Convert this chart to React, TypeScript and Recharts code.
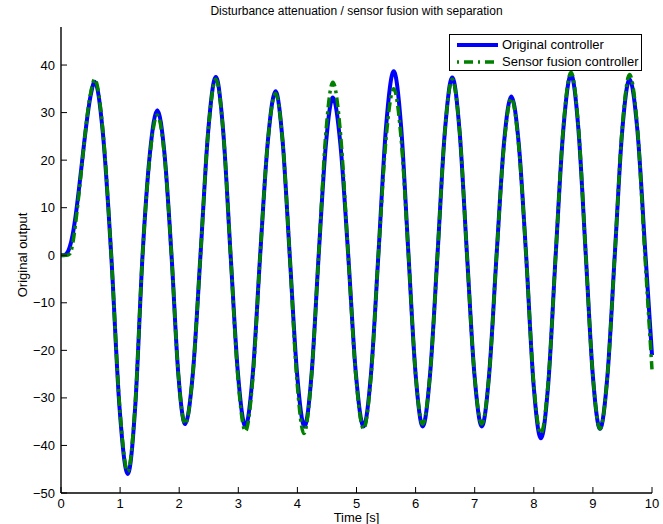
import { LineChart, Line, XAxis, YAxis } from "recharts";

const FONT = '"Liberation Sans", Arial, sans-serif';

const timeTicks = [0, 1, 2, 3, 4, 5, 6, 7, 8, 9, 10];
const outputTicks = [-50, -40, -30, -20, -10, 0, 10, 20, 30, 40];

// Original controller (blue, solid)
const originalTime = [
  0, 0.05, 0.1, 0.15, 0.2, 0.25, 0.3, 0.35, 0.4, 0.45, 0.5, 0.57, 0.71, 0.85, 0.99, 1.13,
  1.255, 1.38, 1.505, 1.63, 1.75, 1.87, 1.985, 2.1, 2.23, 2.36, 2.49, 2.62, 2.745, 2.87,
  2.995, 3.12, 3.245, 3.37, 3.5, 3.63, 3.75, 3.87, 3.995, 4.12, 4.24, 4.36, 4.48, 4.6,
  4.73, 4.86, 4.99, 5.12, 5.245, 5.37, 5.5, 5.63, 5.755, 5.88, 6.0, 6.12, 6.245, 6.37,
  6.495, 6.62, 6.745, 6.87, 6.995, 7.12, 7.245, 7.37, 7.495, 7.62, 7.745, 7.87, 7.995,
  8.12, 8.245, 8.37, 8.5, 8.63, 8.755, 8.88, 9.0, 9.12, 9.245, 9.37, 9.495, 9.62, 9.755,
  9.89, 10,
];
const originalOutput = [
  0, 0, 0.4, 1.8, 4.5, 8.5, 13.5, 19, 24.5, 29.5, 33.5, 36.5, 25.5, 0, -32, -46,
  -32, 0, 21.5, 30.5, 21.5, 0, -25, -35.5, -25, 0, 26, 37.5, 26, 0,
  -25, -36, -25, 0, 24, 34.5, 24, 0, -25, -36, -25, 0, 23, 33.2,
  23, 0, -25, -36, -25, 0, 27, 38.7, 27, 0, -25, -36, -25, 0,
  26, 37.4, 26, 0, -25, -36, -25, 0, 23.5, 33.4, 23.5, 0, -27,
  -38.5, -27, 0, 26.5, 38, 26.5, 0, -25.5, -36.5, -25.5, 0, 26, 37, 26,
  0, -21,
];

// Sensor fusion controller (green, dash-dot)
const fusionTime = [
  0, 0.05, 0.1, 0.15, 0.2, 0.25, 0.3, 0.35, 0.4, 0.45, 0.5, 0.57, 0.71, 0.85, 0.99, 1.13,
  1.255, 1.38, 1.505, 1.63, 1.75, 1.87, 1.985, 2.1, 2.23, 2.36, 2.49, 2.62, 2.745, 2.87,
  2.995, 3.12, 3.245, 3.37, 3.5, 3.63, 3.75, 3.87, 3.99, 4.11, 4.235, 4.36, 4.48, 4.6,
  4.73, 4.86, 4.99, 5.12, 5.245, 5.37, 5.5, 5.63, 5.755, 5.88, 6.0, 6.12, 6.245, 6.37,
  6.495, 6.62, 6.745, 6.87, 6.995, 7.12, 7.245, 7.37, 7.495, 7.62, 7.745, 7.87, 7.995,
  8.12, 8.245, 8.37, 8.5, 8.63, 8.755, 8.88, 9.0, 9.12, 9.245, 9.37, 9.495, 9.62, 9.755,
  9.88, 10,
];
const fusionOutput = [
  0, 0, 0, 0.3, 2.5, 7, 12.5, 18.5, 24.5, 30, 34, 37, 26, 0, -31.5, -45.5,
  -31.5, 0, 21, 29.5, 21, 0, -25, -35.5, -25, 0, 26, 37, 26, 0,
  -26, -37, -26, 0, 24, 34, 24, 0, -26, -37.5, -26, 0, 25.5, 36.4,
  25.5, 0, -25.5, -36.5, -25.5, 0, 24.5, 35, 24.5, 0, -25, -35.5, -25, 0,
  26, 37, 26, 0, -25, -35.5, -25, 0, 23, 33, 23, 0, -26.5,
  -37.5, -26.5, 0, 27, 38.5, 27, 0, -25.5, -36.5, -25.5, 0, 26.5, 38, 26.5,
  0, -24,
];

const originalData = originalTime.map((t, i) => ({ t, y: originalOutput[i] }));
const fusionData = fusionTime.map((t, i) => ({ t, y: fusionOutput[i] }));

const fmt = (v: number) => (v < 0 ? `\u2212${Math.abs(v)}` : `${v}`);

const TICK = 6;

function BottomTick({ x, y, payload }: any) {
  return (
    <g>
      <line x1={x} x2={x} y1={y} y2={y - TICK} stroke="#000" strokeWidth={1} />
      <text x={x} y={y + 15} textAnchor="middle" fontSize={13} fontFamily={FONT} fill="#000">
        {fmt(payload.value)}
      </text>
    </g>
  );
}

function TopTick({ x, y }: any) {
  return <line x1={x} x2={x} y1={y} y2={y + TICK} stroke="#000" strokeWidth={1} />;
}

function LeftTick({ x, y, payload }: any) {
  return (
    <g>
      <line x1={x} x2={x + TICK} y1={y} y2={y} stroke="#000" strokeWidth={1} />
      <text x={x - 6} y={y + 4.5} textAnchor="end" fontSize={13} fontFamily={FONT} fill="#000">
        {fmt(payload.value)}
      </text>
    </g>
  );
}

function RightTick({ x, y }: any) {
  return <line x1={x} x2={x - TICK} y1={y} y2={y} stroke="#000" strokeWidth={1} />;
}

const axisLine = { stroke: "#000", strokeWidth: 1.4 };

export default function App() {
  return (
    <div style={{ position: "absolute", left: 0, top: 0, width: 663, height: 524, background: "#fff", fontFamily: FONT }}>
      <div style={{ position: "absolute", left: 61, width: 591, top: 4, textAlign: "center", fontSize: 12, color: "#000" }}>
        Disturbance attenuation / sensor fusion with separation
      </div>
      <div style={{ position: "absolute", left: 22, top: 255, transform: "translate(-50%, -50%) rotate(-90deg)", fontSize: 13, whiteSpace: "nowrap", color: "#000" }}>
        Original output
      </div>
      <div style={{ position: "absolute", left: 61, width: 591, top: 511, lineHeight: "13px", textAlign: "center", fontSize: 13, color: "#000" }}>
        Time [s]
      </div>

      <LineChart width={663} height={524} margin={{ top: 27, right: 11, bottom: 0, left: 0 }}>
        <XAxis
          dataKey="t"
          type="number"
          domain={[0, 10]}
          ticks={timeTicks}
          interval={0}
          height={31}
          tickSize={0}
          tickMargin={0}
          axisLine={axisLine}
          tickLine={false}
          tick={<BottomTick />}
          allowDuplicatedCategory={false}
        />
        <XAxis
          xAxisId="top"
          orientation="top"
          type="number"
          domain={[0, 10]}
          ticks={timeTicks}
          interval={0}
          height={0}
          tickSize={0}
          tickMargin={0}
          axisLine={axisLine}
          tickLine={false}
          tick={<TopTick />}
        />
        <YAxis
          type="number"
          domain={[-50, 48]}
          ticks={outputTicks}
          interval={0}
          width={61}
          tickSize={0}
          tickMargin={0}
          axisLine={axisLine}
          tickLine={false}
          tick={<LeftTick />}
          allowDataOverflow
        />
        <YAxis
          yAxisId="right"
          orientation="right"
          type="number"
          domain={[-50, 48]}
          ticks={outputTicks}
          interval={0}
          width={0}
          tickSize={0}
          tickMargin={0}
          axisLine={axisLine}
          tickLine={false}
          tick={<RightTick />}
          allowDataOverflow
        />
        <Line
          data={originalData}
          dataKey="y"
          type="monotone"
          stroke="#0000ff"
          strokeWidth={4}
          dot={false}
          isAnimationActive={false}
        />
        <Line
          data={fusionData}
          dataKey="y"
          type="monotone"
          stroke="#008000"
          strokeWidth={3.5}
          strokeDasharray="10 4 3 4"
          dot={false}
          isAnimationActive={false}
        />
      </LineChart>

      <div
        style={{
          position: "absolute",
          left: 449,
          top: 34,
          width: 193,
          height: 37,
          boxSizing: "border-box",
          border: "1.2px solid #000",
          background: "#fff",
          fontSize: 13,
          color: "#000",
        }}
      >
        <div style={{ position: "absolute", left: 7, top: 2, display: "flex", alignItems: "center", whiteSpace: "nowrap" }}>
          <svg width={41} height={14}>
            <line x1={0} x2={41} y1={7} y2={7} stroke="#0000ff" strokeWidth={4} />
          </svg>
          <span style={{ marginLeft: 4 }}>Original controller</span>
        </div>
        <div style={{ position: "absolute", left: 7, top: 19, display: "flex", alignItems: "center", whiteSpace: "nowrap" }}>
          <svg width={41} height={14}>
            <line x1={0} x2={41} y1={7} y2={7} stroke="#008000" strokeWidth={3.5} strokeDasharray="2 5 9 5" />
          </svg>
          <span style={{ marginLeft: 4 }}>Sensor fusion controller</span>
        </div>
      </div>
    </div>
  );
}
